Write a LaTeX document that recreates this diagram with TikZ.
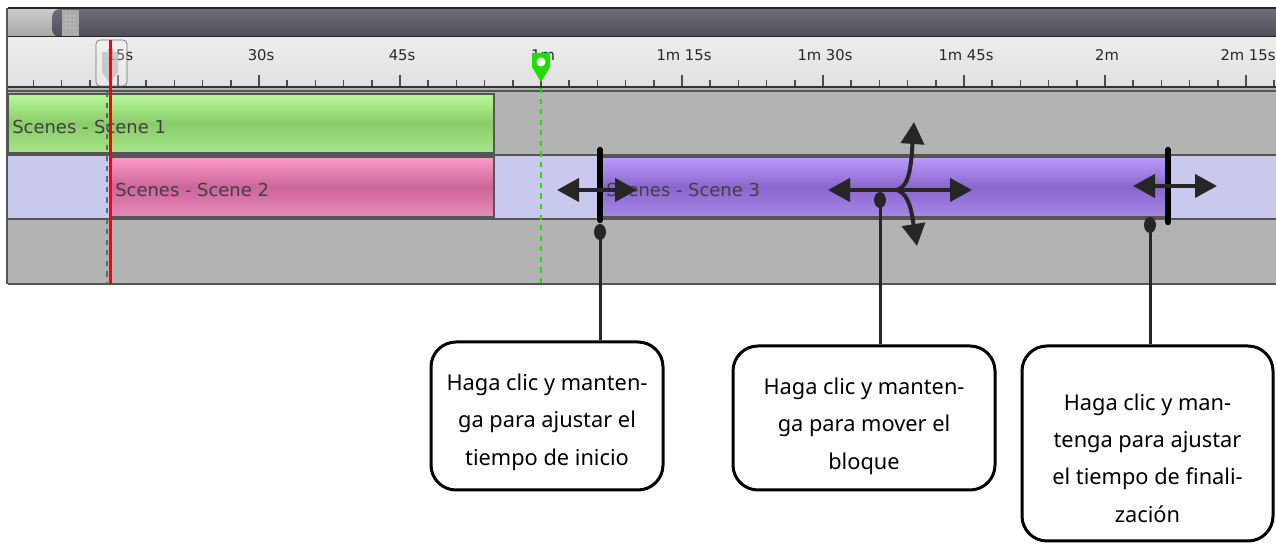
\documentclass[tikz,border=0pt]{standalone}
\usepackage{fontspec}
\setmainfont{Noto Sans}
\newfontfamily\uifont{DejaVu Sans}
\usetikzlibrary{arrows.meta,positioning,calc}

\definecolor{trackgrey}{HTML}{B3B3B3}
\definecolor{tracklav}{HTML}{C9C9EE}
\definecolor{barline}{HTML}{555555}
\definecolor{ink}{HTML}{262626}
\definecolor{scrolltop}{HTML}{6E6E78}
\definecolor{scrollbot}{HTML}{4E4E58}
\definecolor{greentop}{HTML}{B8F89A}
\definecolor{greenmid}{HTML}{8ACC68}
\definecolor{greenbot}{HTML}{A6E68A}
\definecolor{pinktop}{HTML}{FD9AC8}
\definecolor{pinkmid}{HTML}{CC6699}
\definecolor{pinkbot}{HTML}{E68CBA}
\definecolor{purptop}{HTML}{BA9CFC}
\definecolor{purpmid}{HTML}{8A66CC}
\definecolor{purpbot}{HTML}{A688E8}
\definecolor{markgreen}{HTML}{22DD00}

\begin{document}
\begin{tikzpicture}[x=0.2mm, y=-0.2mm,
  scenebar/.style={draw=barline, line width=0.3mm},
  scenelabel/.style={anchor=west, font=\uifont\fontsize{10.2}{12}\selectfont, text=black!75, inner sep=0},
  ticklabel/.style={font=\uifont\fontsize{8.4}{10}\selectfont, text=black!85, inner sep=0},
  handle/.style={line width=1.3mm, line cap=round, black},
  move/.style={{Triangle[length=4.4mm,width=4.6mm]}-{Triangle[length=4.4mm,width=4.6mm]}, line width=0.8mm, ink},
  swing/.style={-{Triangle[length=4.4mm,width=4.6mm]}, line width=0.8mm, ink},
  pin/.style={line width=0.6mm, ink},
  tipframe/.style={rectangle, rounded corners=5mm, draw=black, line width=0.6mm, fill=white, inner sep=0},
  tiptext/.style={align=center, font=\fontsize{12.4}{21.3}\selectfont, inner sep=0}
]
\useasboundingbox (0,0) rectangle (1276,544);
\fill[white] (0,0) rectangle (1276,544);

% Scroll bar
\shade[top color=scrolltop, bottom color=scrollbot] (8,9) rectangle (1276,37);
\shade[top color=gray!40, bottom color=gray!70] (8,9) rectangle (60,37);
\shade[top color=scrolltop, bottom color=scrollbot, rounded corners=1.6mm] (52,9) rectangle (100,37);
\fill[gray!65] (62,10) rectangle (79,36);
\foreach \gx in {66,70,74}
  \foreach \gy in {16,20,24,28}
    \fill[gray!30] (\gx,\gy) circle (0.15mm);
\draw[black!85, line width=0.5mm] (8,8) -- (1276,8);
\draw[black!85, line width=0.4mm] (8,37) -- (1276,37);

% Ruler
\shade[top color=gray!14, bottom color=gray!24] (8,38) rectangle (1276,87);
\foreach \i in {0,...,44}
  \draw[black!70, line width=0.3mm] (33.4+28.2*\i,80) -- (33.4+28.2*\i,86);
\foreach \k in {0,...,8}
  \draw[black!70, line width=0.3mm] (118+141*\k,75) -- (118+141*\k,86);
\foreach \lbl [count=\k from 0] in {15s,30s,45s,1m,1m 15s,1m 30s,1m 45s,2m,2m 15s}
  \node[ticklabel] (t\k) at (120+141*\k,55) {\lbl};
\draw[black!80, line width=0.5mm] (8,87) -- (1276,87);

% Tracks
\fill[trackgrey] (8,88) rectangle (1276,155);
\fill[tracklav] (8,155) rectangle (1276,219);
\fill[trackgrey] (8,219) rectangle (1276,284);
\foreach \ty in {91,155,219,284}
  \draw[barline, line width=0.5mm] (8,\ty) -- (1276,\ty);
\draw[barline, line width=0.4mm] (7,8) -- (7,284);

% Scene blocks
\draw[scenebar, top color=greentop, bottom color=greenbot, middle color=greenmid] (8,94) rectangle (494,153);
\node[scenelabel] (s1) at (12,127) {Scenes - Scene 1};
\draw[scenebar, top color=pinktop, bottom color=pinkbot, middle color=pinkmid] (110,157) rectangle (494,217);
\node[scenelabel] (s2) at (115,190) {Scenes - Scene 2};
\draw[scenebar, top color=purptop, bottom color=purpbot, middle color=purpmid] (602,157) rectangle (1168,217);
\node[scenelabel] (s3) at (606,190) {Scenes - Scene 3};

% Playhead and marker
\draw[black!55, fill=white, fill opacity=0.25, rounded corners=0.8mm] (96,40) rectangle (127,86);
\fill[gray!60, opacity=0.6] (102,52) -- (118,52) -- (118,72) -- (110,84) -- (102,72) -- cycle;
\draw[black!60, dashed, line width=0.3mm] (107,92) -- (107,284);
\draw[red, line width=0.6mm] (110,40) -- (110,284);
\draw[markgreen, dashed, line width=0.3mm] (541,88) -- (541,284);
\fill[markgreen] (532,53) -- (550,53) -- (550,67) -- (541,82) -- (532,67) -- cycle;
\fill[white] (541,62) circle (0.9mm);

% Handles and move arrows
\draw[handle] (600,150) -- (600,220);
\draw[handle] (1168,150) -- (1168,222);
\draw[move] (557,190) -- (637,190);
\draw[move] (828,190) -- (972,190);
\draw[swing] (897,190) .. controls (910,186) and (911,165) .. (914,122);
\draw[swing] (897,190) .. controls (910,194) and (912,215) .. (917,246);
\draw[move] (1133,186) -- (1217,186);

% Callout boxes
\node[tipframe, minimum width=46.4mm, minimum height=29.6mm] (b1) at (547,416) {};
\node[tiptext] (h1) at (547,422) {Haga clic y manten-\\ga para ajustar el\\tiempo de inicio};
\node[tipframe, minimum width=52.4mm, minimum height=28.8mm] (b2) at (864,418) {};
\node[tiptext] (h2) at (864,426) {Haga clic y manten-\\ga para mover el\\bloque};
\node[tipframe, minimum width=50.2mm, minimum height=39mm] (b3) at (1147.5,443.5) {};
\node[tiptext] (h3) at (1147.5,458) {Haga clic y man-\\tenga para ajustar\\el tiempo de finali-\\zación};

% Pins from handles to boxes
\coordinate (d1) at (600,232);
\coordinate (d2) at (880,200);
\coordinate (d3) at (1150,225);
\foreach \d/\b in {d1/b1,d2/b2,d3/b3}{
  \draw[pin] (\d) -- (\d |- \b.north);
  \fill[ink] (\d) ellipse (1.2mm and 1.6mm);
}
\end{tikzpicture}
\end{document}
